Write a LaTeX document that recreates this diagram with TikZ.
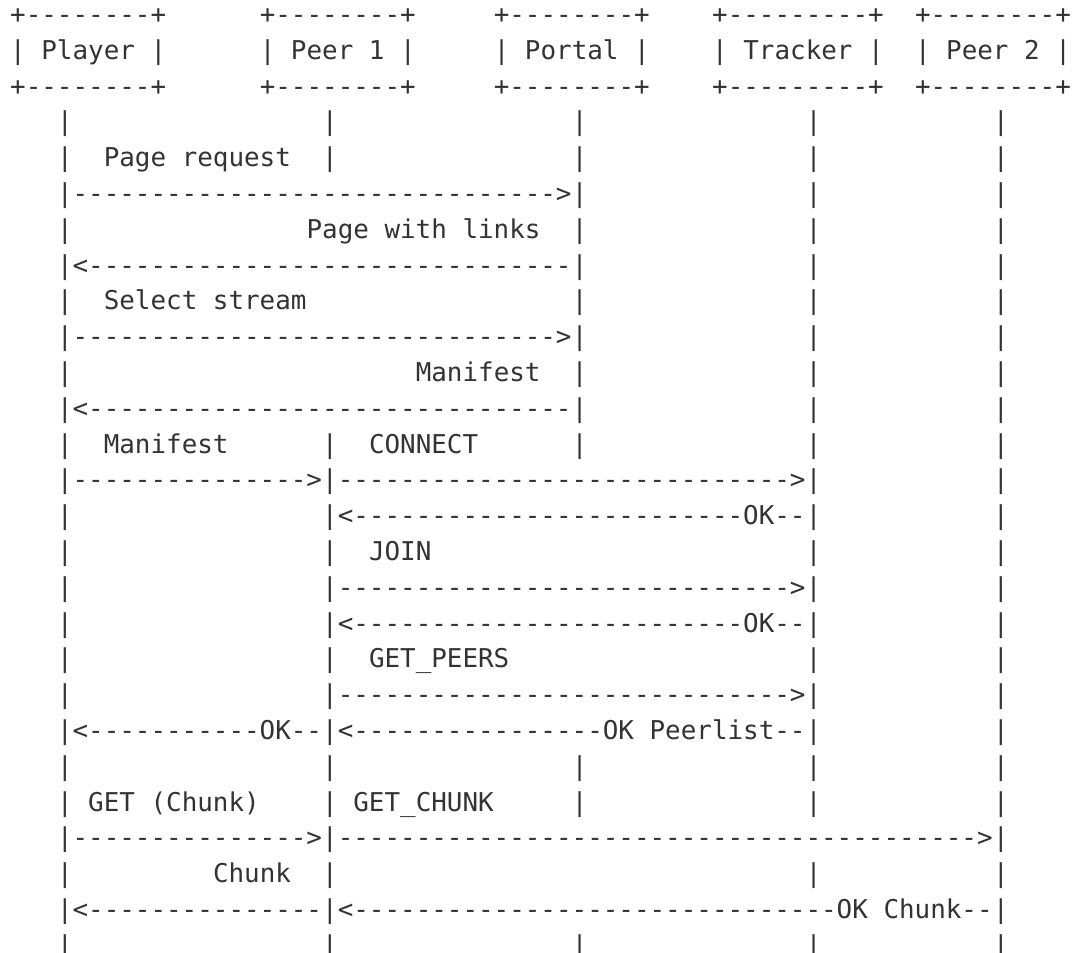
\documentclass[tikz,border=0pt]{standalone}
\usepackage{fontspec}
\setmonofont{DejaVu Sans Mono}
\ExplSyntaxOn
\NewDocumentCommand\dashrun{m}{\prg_replicate:nn{#1}{-}}
\ExplSyntaxOff
\definecolor{ink}{HTML}{333333}
\tikzset{ascii/.style={font=\ttfamily\fontsize{25.9pt}{30pt}\selectfont, text=ink, inner sep=0pt, outer sep=0pt, anchor=base west}}
\begin{document}
\begin{tikzpicture}
\useasboundingbox[fill=white] (0pt,0pt) rectangle (1072pt,-953pt);
\begin{scope}[x=15.6pt, y=-35.8pt, xshift=10.2pt, yshift=12.3pt]
% actor boxes
\foreach \c/\nm/\lab/\edge in {0/player/{| Player |}/{+--------+}, 16/peerone/{| Peer 1 |}/{+--------+}, 31/portal/{| Portal |}/{+--------+}, 45/tracker/{| Tracker |}/{+---------+}, 58/peertwo/{| Peer 2 |}/{+--------+}}{
  \node[ascii] (\nm-top) at (\c,1) {\edge};
  \node[ascii] (\nm) at (\c,2) {\lab};
  \node[ascii] (\nm-bot) at (\c,3) {\edge};
}
% lifelines, row by row
\foreach \r/\cols in {4/{3,20,36,51,63}, 5/{3,20,36,51,63}, 6/{3,36,51,63}, 7/{3,36,51,63}, 8/{3,36,51,63}, 9/{3,36,51,63}, 10/{3,36,51,63}, 11/{3,36,51,63}, 12/{3,36,51,63}, 13/{3,20,36,51,63}, 14/{3,20,51,63}, 15/{3,20,51,63}, 16/{3,20,51,63}, 17/{3,20,51,63}, 18/{3,20,51,63}, 19/{3,20,51,63}, 20/{3,20,51,63}, 21/{3,20,51,63}, 22/{3,20,36,51,63}, 23/{3,20,36,51,63}, 24/{3,20,63}, 25/{3,20,51,63}, 26/{3,20,63}, 27/{3,20,36,51,63}}
  \foreach \c in \cols
    \node[ascii] (life-\r-\c) at (\c,\r) {|};
% portal exchange
\node[ascii] (msg-req) at (6,5) {Page request};
\node[ascii] (arr-req) at (4,6) {\dashrun{31}>};
\node[ascii] (msg-links) at (19,7) {Page with links};
\node[ascii] (arr-links) at (4,8) {<\dashrun{31}};
\node[ascii] (msg-sel) at (6,9) {Select stream};
\node[ascii] (arr-sel) at (4,10) {\dashrun{31}>};
\node[ascii] (msg-man) at (26,11) {Manifest};
\node[ascii] (arr-man) at (4,12) {<\dashrun{31}};
% tracker exchange
\node[ascii] (msg-fwd) at (6,13) {Manifest};
\node[ascii] (msg-conn) at (23,13) {CONNECT};
\node[ascii] (arr-fwd) at (4,14) {\dashrun{15}>};
\node[ascii] (arr-conn) at (21,14) {\dashrun{29}>};
\node[ascii] (ok-conn) at (21,15) {<\dashrun{25}OK--};
\node[ascii] (msg-join) at (23,16) {JOIN};
\node[ascii] (arr-join) at (21,17) {\dashrun{29}>};
\node[ascii] (ok-join) at (21,18) {<\dashrun{25}OK--};
\node[ascii] (msg-peers) at (23,19) {GET\_PEERS};
\node[ascii] (arr-peers) at (21,20) {\dashrun{29}>};
\node[ascii] (ok-fwd) at (4,21) {<\dashrun{11}OK--};
\node[ascii] (ok-peers) at (21,21) {<\dashrun{16}OK Peerlist--};
% chunk exchange
\node[ascii] (msg-get) at (5,23) {GET (Chunk)};
\node[ascii] (msg-chunk) at (22,23) {GET\_CHUNK};
\node[ascii] (arr-get) at (4,24) {\dashrun{15}>};
\node[ascii] (arr-chunk) at (21,24) {\dashrun{41}>};
\node[ascii] (msg-data) at (13,25) {Chunk};
\node[ascii] (ret-data) at (4,26) {<\dashrun{15}};
\node[ascii] (ok-chunk) at (21,26) {<\dashrun{31}OK Chunk--};
\end{scope}
\end{tikzpicture}
\end{document}
